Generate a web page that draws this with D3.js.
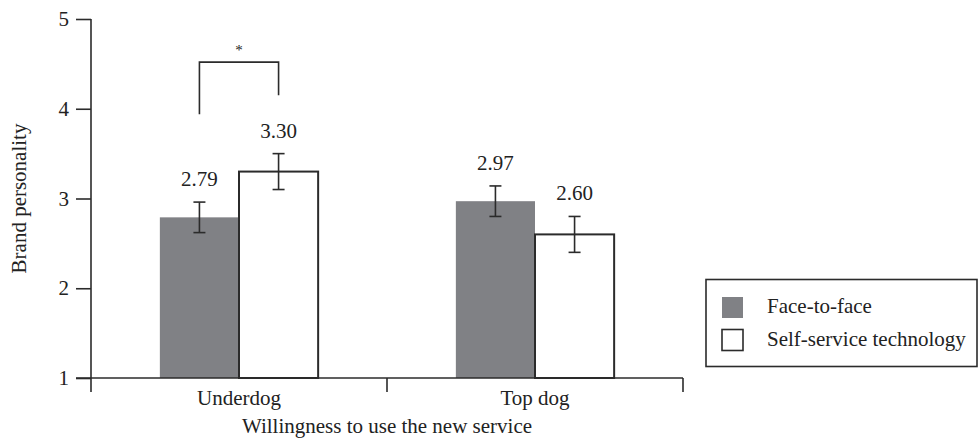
<!DOCTYPE html>
<html>
  <head>
    <meta charset="utf-8">
    <title>Brand personality</title>
    <script src="https://d3js.org/d3.v7.min.js"></script>
    <style>
      body { margin: 0; background: #fff; }
      svg text { font-family: "Liberation Serif", "DejaVu Serif", serif !important; fill: #222; }
    </style>
  </head>
  <body>
    <div id="chart"></div>
    <script>
      var groups = ["Underdog", "Top dog"];
      var series = ["Face-to-face", "Self-service technology"];
      var faceToFace = [2.79, 2.97];
      var selfService = [3.30, 2.60];
      var errFace = [0.17, 0.17];
      var errSelf = [0.20, 0.20];
      var yTicks = [1, 2, 3, 4, 5];
      // significance bracket: legs end at these values, star above
      var sigLegs = [3.94, 4.15];
      var sigTop = 4.52;
      var sigLabel = "*";

      var width = 979, height = 439;
      var ink = "#2b2b2b";
      var grey = "#808185";
      var serif = "'Liberation Serif', serif";

      var svg = d3.select("#chart").append("svg")
                  .attr("width", width)
                  .attr("height", height)
                  .attr("font-family", serif);

      var y = d3.scaleLinear().domain([1, 5]).range([378, 19]);
      var x0 = d3.scaleBand().domain(groups).range([91, 683]).padding(0);
      var x1 = d3.scaleBand().domain(series).range([0, x0.bandwidth()])
                 .paddingInner(0).paddingOuter(0.87);

      var rows = groups.map(function(g, i) {
        return {
          group: g,
          values: [
            {series: series[0], value: faceToFace[i], err: errFace[i]},
            {series: series[1], value: selfService[i], err: errSelf[i]}
          ]
        };
      });

      // bars
      var gGroup = svg.selectAll("g.group")
                      .data(rows)
                      .enter()
                      .append("g")
                      .attr("class", "group")
                      .attr("transform", function(d) { return "translate(" + x0(d.group) + ",0)"; });

      gGroup.selectAll("rect")
            .data(function(d) { return d.values; })
            .enter()
            .append("rect")
            .attr("x", function(d) { return x1(d.series); })
            .attr("y", function(d) { return y(d.value); })
            .attr("width", x1.bandwidth())
            .attr("height", function(d) { return y(1) - y(d.value); })
            .attr("fill", function(d, i) { return i === 0 ? grey : "#fff"; })
            .attr("stroke", function(d, i) { return i === 0 ? "none" : ink; })
            .attr("stroke-width", 2);

      // error bars
      var eb = gGroup.selectAll("g.err")
                     .data(function(d) { return d.values; })
                     .enter()
                     .append("g")
                     .attr("class", "err")
                     .attr("stroke", ink)
                     .attr("stroke-width", 1.6);
      function cx(d) { return x1(d.series) + x1.bandwidth() / 2; }
      eb.append("line")
        .attr("x1", cx).attr("x2", cx)
        .attr("y1", function(d) { return y(d.value + d.err); })
        .attr("y2", function(d) { return y(d.value - d.err); });
      eb.append("line")
        .attr("x1", function(d) { return cx(d) - 6; }).attr("x2", function(d) { return cx(d) + 6; })
        .attr("y1", function(d) { return y(d.value + d.err); })
        .attr("y2", function(d) { return y(d.value + d.err); });
      eb.append("line")
        .attr("x1", function(d) { return cx(d) - 6; }).attr("x2", function(d) { return cx(d) + 6; })
        .attr("y1", function(d) { return y(d.value - d.err); })
        .attr("y2", function(d) { return y(d.value - d.err); });

      // value labels
      gGroup.selectAll("text.val")
            .data(function(d) { return d.values; })
            .enter()
            .append("text")
            .attr("class", "val")
            .attr("x", cx)
            .attr("y", function(d) { return y(d.value + d.err) - 16; })
            .attr("text-anchor", "middle")
            .style("font-size", "21px")
            .text(function(d) { return d.value.toFixed(2); });

      // y axis
      var yAxis = svg.append("g")
                     .attr("transform", "translate(91,0)")
                     .call(d3.axisLeft(y).tickValues(yTicks).tickFormat(d3.format("d"))
                             .tickSize(15).tickSizeOuter(0).tickPadding(7));
      yAxis.attr("font-family", serif);
      yAxis.select(".domain").remove();
      yAxis.selectAll("line").attr("stroke", ink).attr("stroke-width", 1.6);
      yAxis.selectAll("text").style("font-size", "21px").attr("fill", "#222");
      svg.append("line")
         .attr("x1", 91).attr("x2", 91)
         .attr("y1", y(5)).attr("y2", y(1) + 14)
         .attr("stroke", ink).attr("stroke-width", 1.6);

      // x axis: line, boundary ticks, centred labels
      svg.append("line")
         .attr("x1", 76).attr("x2", x0.range()[1])
         .attr("y1", y(1)).attr("y2", y(1))
         .attr("stroke", ink).attr("stroke-width", 1.6);
      var bounds = groups.map(function(g) { return x0(g); }).concat([x0.range()[1]]);
      svg.selectAll("line.xtick")
         .data(bounds.slice(1))
         .enter()
         .append("line")
         .attr("class", "xtick")
         .attr("x1", function(d) { return d; }).attr("x2", function(d) { return d; })
         .attr("y1", y(1)).attr("y2", y(1) + 14)
         .attr("stroke", ink).attr("stroke-width", 1.6);
      svg.selectAll("text.xlab")
         .data(groups)
         .enter()
         .append("text")
         .attr("class", "xlab")
         .attr("x", function(d) { return x0(d) + x0.bandwidth() / 2; })
         .attr("y", 405)
         .attr("text-anchor", "middle")
         .style("font-size", "21px")
         .text(function(d) { return d; });

      svg.append("text")
         .attr("x", (x0.range()[0] + x0.range()[1]) / 2)
         .attr("y", 433)
         .attr("text-anchor", "middle")
         .style("font-size", "21px")
         .text("Willingness to use the new service");

      svg.append("text")
         .attr("transform", "translate(26," + (y(3)) + ") rotate(-90)")
         .attr("text-anchor", "middle")
         .style("font-size", "21px")
         .text("Brand personality");

      // significance bracket over Underdog
      var bx0 = x0(groups[0]) + x1(series[0]) + x1.bandwidth() / 2;
      var bx1 = x0(groups[0]) + x1(series[1]) + x1.bandwidth() / 2;
      svg.append("path")
         .attr("d", "M" + bx0 + "," + y(sigLegs[0]) + "V" + y(sigTop) + "H" + bx1 + "V" + y(sigLegs[1]))
         .attr("fill", "none")
         .attr("stroke", ink)
         .attr("stroke-width", 1.6);
      svg.append("text")
         .attr("x", (bx0 + bx1) / 2)
         .attr("y", y(sigTop) - 7)
         .attr("text-anchor", "middle")
         .style("font-size", "15px")
         .text(sigLabel);

      // legend
      var legend = svg.append("g").attr("transform", "translate(706,279.5)");
      legend.append("rect")
            .attr("width", 271).attr("height", 87)
            .attr("fill", "#fff").attr("stroke", ink).attr("stroke-width", 1.6);
      var li = legend.selectAll("g.item")
                     .data(series)
                     .enter()
                     .append("g")
                     .attr("class", "item")
                     .attr("transform", function(d, i) { return "translate(16," + (17.5 + i * 32.5) + ")"; });
      li.append("rect")
        .attr("width", 21).attr("height", 21)
        .attr("fill", function(d, i) { return i === 0 ? grey : "#fff"; })
        .attr("stroke", function(d, i) { return i === 0 ? "none" : ink; })
        .attr("stroke-width", 1.6);
      li.append("text")
        .attr("x", 45)
        .attr("y", 16)
        .style("font-size", "21px")
        .text(function(d) { return d; });
    </script>
  </body>
</html>
